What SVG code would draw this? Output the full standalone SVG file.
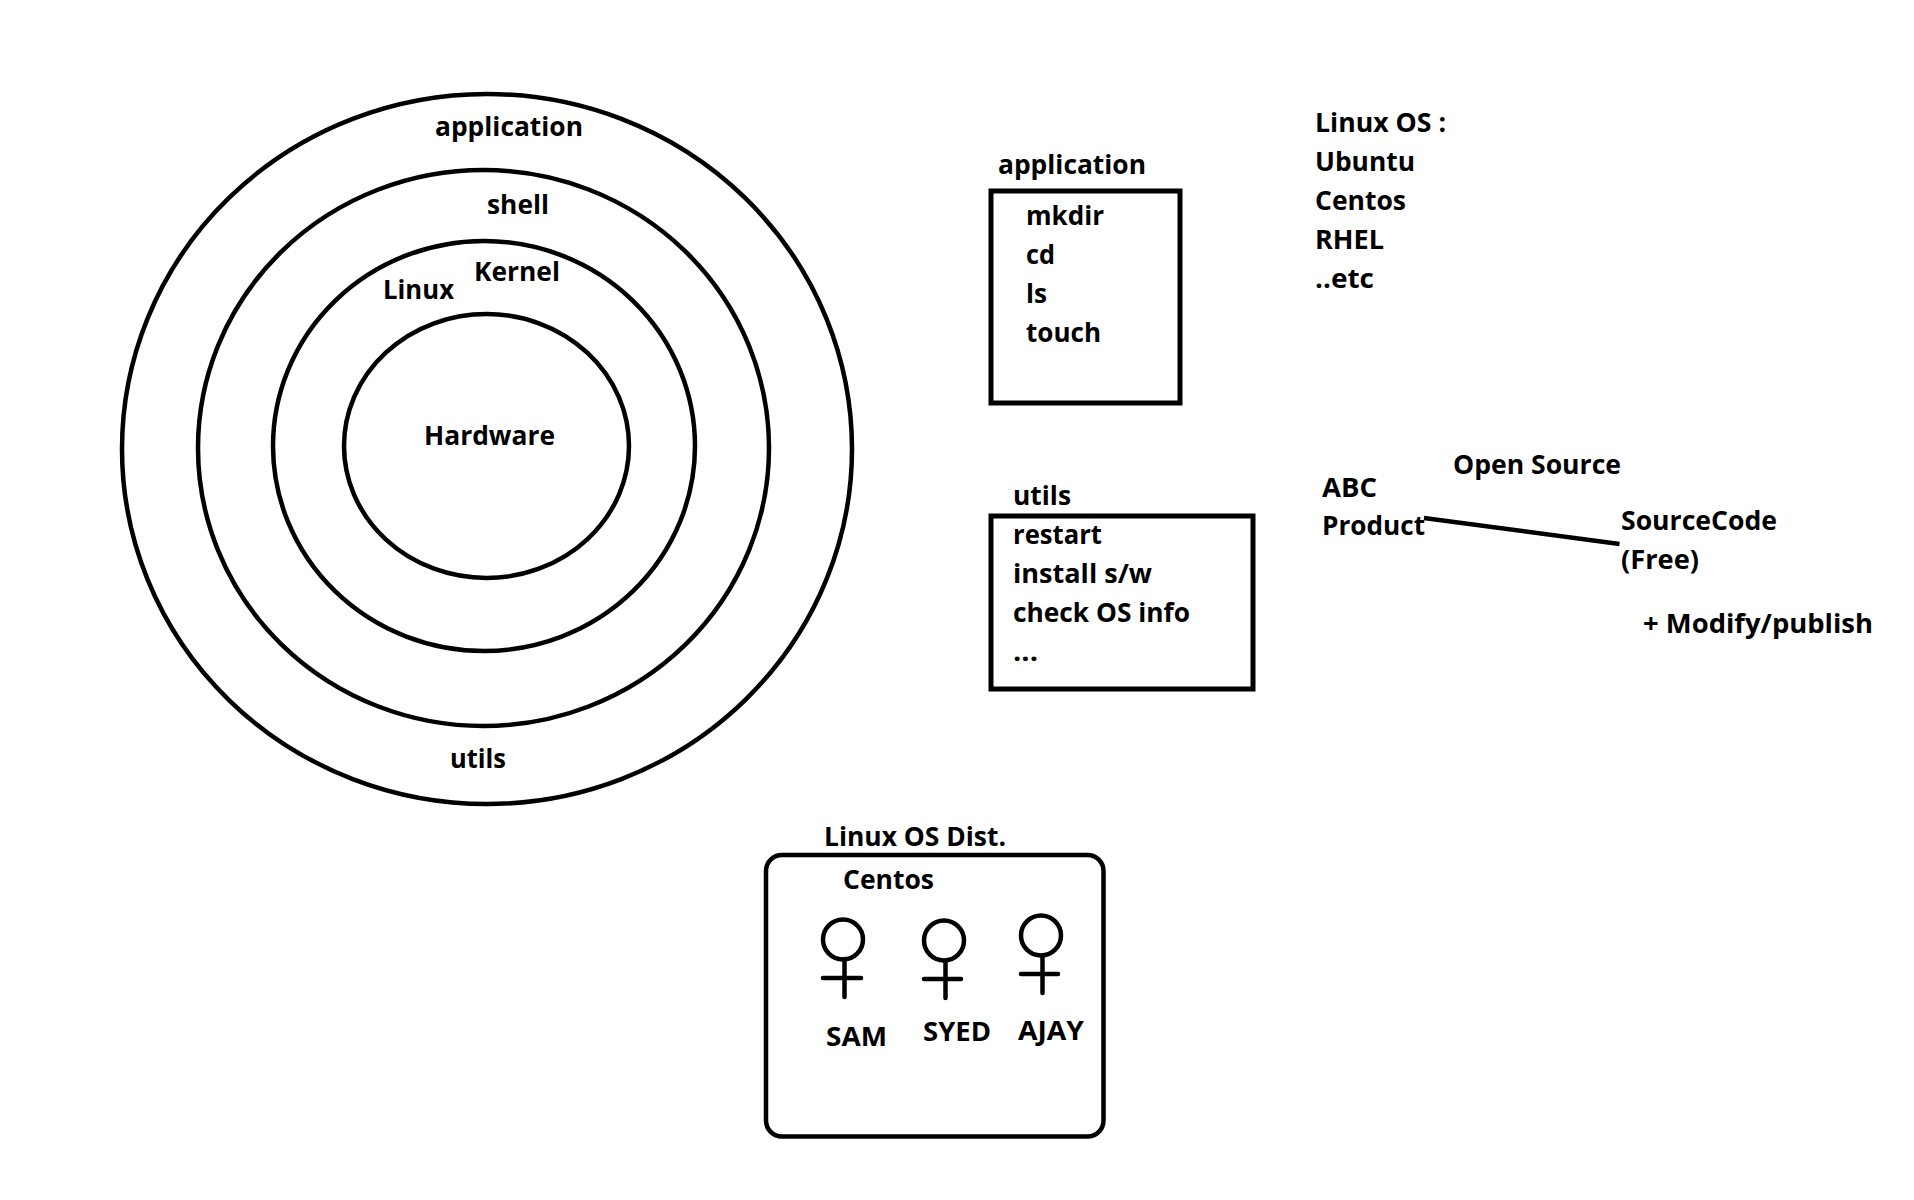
<svg xmlns="http://www.w3.org/2000/svg" width="1914" height="1200" viewBox="0 0 1914 1200">
<style>
text{font-family:"Open Sans","Noto Sans","Liberation Sans",sans-serif;font-weight:700;font-size:27px;fill:#000}
.s{fill:none;stroke:#000;stroke-width:4.5}
.b{fill:none;stroke:#000;stroke-width:5}
.v{fill:none;stroke:#000;stroke-width:4.5;stroke-linecap:round}
</style>
<rect width="1914" height="1200" fill="#fff"/>
<g id="layers">
<g id="layer-application"><ellipse class="s" cx="487" cy="449" rx="365" ry="355"/><text x="435" y="136" textLength="148" lengthAdjust="spacingAndGlyphs">application</text><text x="450" y="768" textLength="56" lengthAdjust="spacingAndGlyphs">utils</text></g>
<g id="layer-shell"><ellipse class="s" cx="483.5" cy="448" rx="285.5" ry="278"/><text x="487" y="214" textLength="62" lengthAdjust="spacingAndGlyphs">shell</text></g>
<g id="layer-kernel"><ellipse class="s" cx="484" cy="446" rx="211" ry="205"/><text x="474" y="281" textLength="86" lengthAdjust="spacingAndGlyphs">Kernel</text><text x="383" y="299" textLength="71" lengthAdjust="spacingAndGlyphs">Linux</text></g>
<g id="layer-hardware"><ellipse class="s" cx="486.5" cy="446" rx="142.5" ry="132"/><text x="424" y="445" textLength="131" lengthAdjust="spacingAndGlyphs">Hardware</text></g>
</g>
<g id="application-box"><rect class="b" x="991" y="191" width="189" height="212"/>
<text x="998" y="174" textLength="148" lengthAdjust="spacingAndGlyphs">application</text>
<text x="1026" y="225" textLength="78" lengthAdjust="spacingAndGlyphs">mkdir</text>
<text x="1026" y="264" textLength="29" lengthAdjust="spacingAndGlyphs">cd</text>
<text x="1026" y="303" textLength="21" lengthAdjust="spacingAndGlyphs">ls</text>
<text x="1026" y="342" textLength="75" lengthAdjust="spacingAndGlyphs">touch</text></g>
<g id="utils-box"><rect class="b" x="991" y="516" width="262" height="173"/>
<text x="1013" y="505" textLength="58" lengthAdjust="spacingAndGlyphs">utils</text>
<text x="1013" y="544" textLength="89" lengthAdjust="spacingAndGlyphs">restart</text>
<text x="1013" y="583" textLength="139" lengthAdjust="spacingAndGlyphs">install s/w</text>
<text x="1013" y="622" textLength="177" lengthAdjust="spacingAndGlyphs">check OS info</text>
<text x="1013" y="661" textLength="25" lengthAdjust="spacingAndGlyphs">...</text></g>
<g id="linux-os-list">
<text x="1315" y="132" textLength="131" lengthAdjust="spacingAndGlyphs">Linux OS :</text>
<text x="1315" y="171" textLength="100" lengthAdjust="spacingAndGlyphs">Ubuntu</text>
<text x="1315" y="210" textLength="91" lengthAdjust="spacingAndGlyphs">Centos</text>
<text x="1315" y="249" textLength="69" lengthAdjust="spacingAndGlyphs">RHEL</text>
<text x="1315" y="288" textLength="59" lengthAdjust="spacingAndGlyphs">..etc</text></g>
<g id="abc-product"><text x="1322" y="497" textLength="55" lengthAdjust="spacingAndGlyphs">ABC</text><text x="1322" y="535" textLength="103" lengthAdjust="spacingAndGlyphs">Product</text></g>
<g id="open-source"><text x="1453" y="474" textLength="168" lengthAdjust="spacingAndGlyphs">Open Source</text></g>
<g id="source-code"><text x="1621" y="530" textLength="156" lengthAdjust="spacingAndGlyphs">SourceCode</text><text x="1621" y="569" textLength="78" lengthAdjust="spacingAndGlyphs">(Free)</text></g>
<g id="modify-publish"><text x="1643" y="633" textLength="230" lengthAdjust="spacingAndGlyphs">+ Modify/publish</text></g>
<g id="connectors"><line x1="1424" y1="518" x2="1619.5" y2="544" stroke="#000" stroke-width="4.5"/></g>
<g id="distribution"><rect class="s" x="766" y="855" width="337.500" height="281.500" rx="16"/>
<text x="824" y="846" textLength="182" lengthAdjust="spacingAndGlyphs">Linux OS Dist.</text>
<text x="843" y="889" textLength="91" lengthAdjust="spacingAndGlyphs">Centos</text></g>
<g id="user-sam"><circle class="v" cx="843" cy="939.500" r="20"/><path class="v" d="M844.500 959V997M823 978H861"/><text x="826" y="1046" textLength="61" lengthAdjust="spacingAndGlyphs">SAM</text></g>
<g id="user-syed"><circle class="v" cx="944" cy="940.500" r="20"/><path class="v" d="M945.500 961V998M924 979H961"/><text x="923" y="1041" textLength="68" lengthAdjust="spacingAndGlyphs">SYED</text></g>
<g id="user-ajay"><circle class="v" cx="1041" cy="935.500" r="20"/><path class="v" d="M1042.500 956V993M1021 974H1058"/><text x="1018" y="1040" textLength="66" lengthAdjust="spacingAndGlyphs">AJAY</text></g>
</svg>
